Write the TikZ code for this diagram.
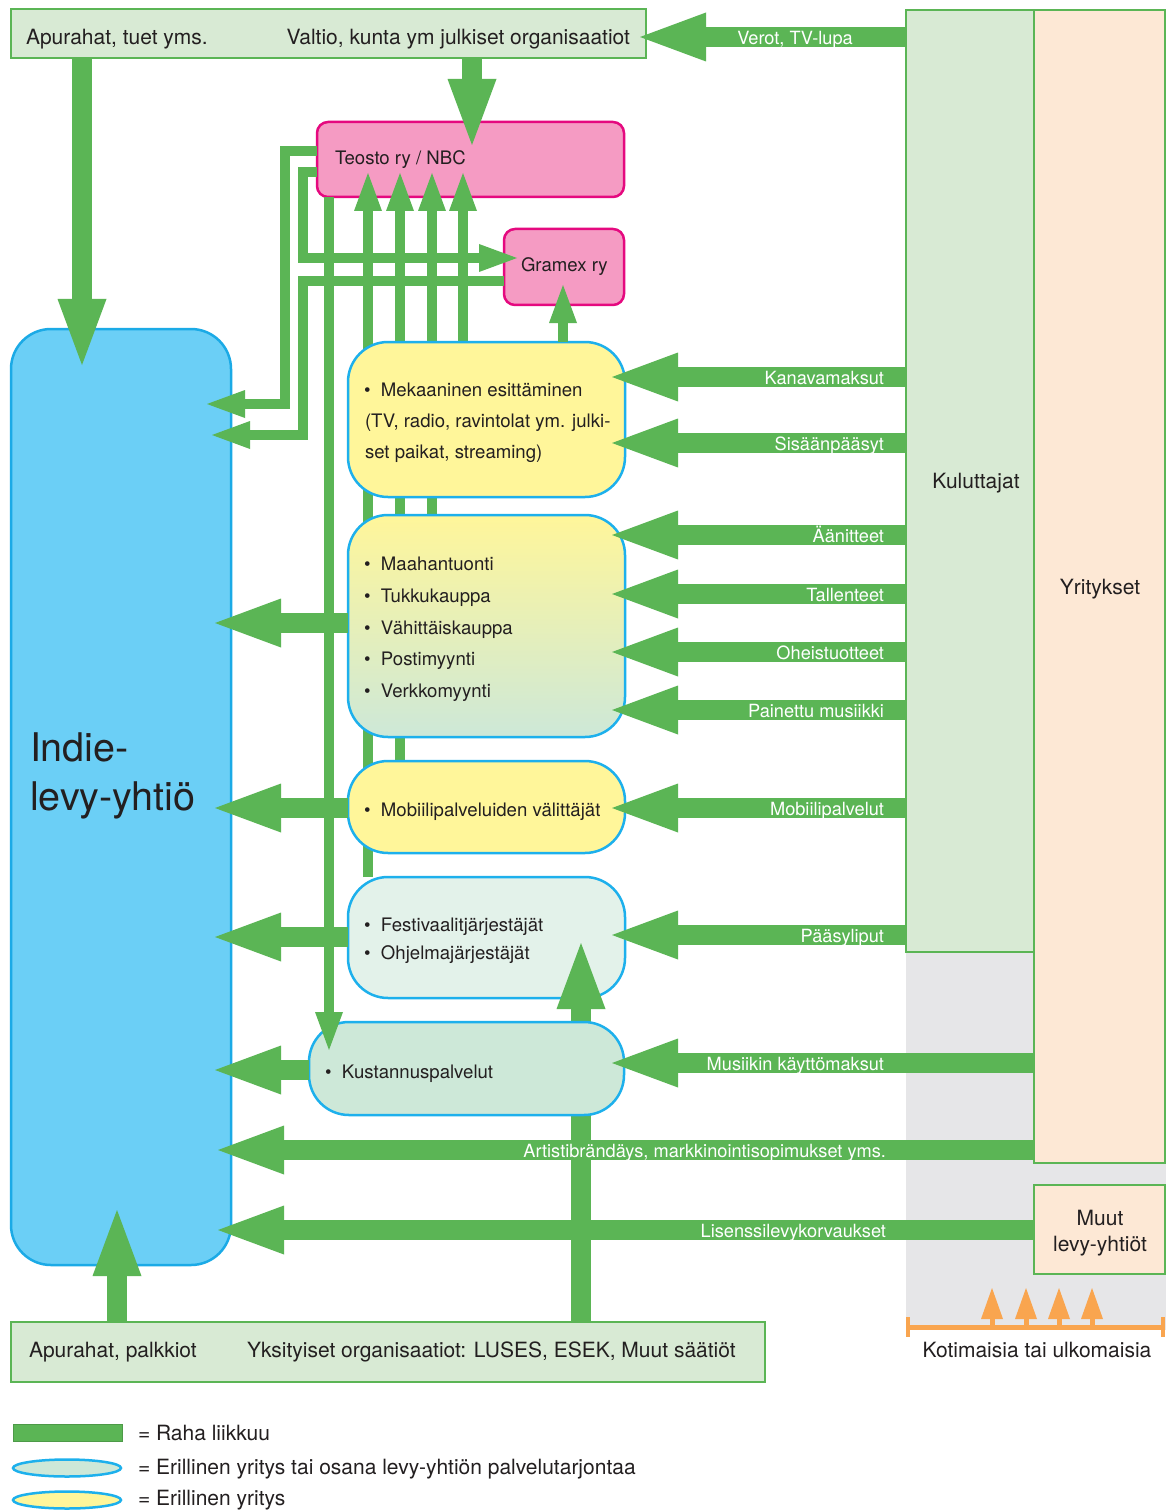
\documentclass[tikz,border=0pt]{standalone}
\usepackage{fontspec}
\setmainfont{TeX Gyre Heros}
\usetikzlibrary{arrows.meta,calc,shapes.geometric}
\definecolor{mg}{RGB}{91,181,85}
\definecolor{lgreen}{RGB}{216,234,212}
\definecolor{lorange}{RGB}{253,232,213}
\definecolor{lgrey}{RGB}{230,230,232}
\definecolor{pinkf}{RGB}{245,155,195}
\definecolor{mag}{RGB}{229,9,127}
\definecolor{bluef}{RGB}{107,207,246}
\definecolor{blueb}{RGB}{27,170,230}
\definecolor{yel}{RGB}{255,246,154}
\definecolor{cyanb}{RGB}{29,176,236}
\definecolor{mint}{RGB}{205,232,216}
\definecolor{mintl}{RGB}{227,242,234}
\definecolor{orng}{RGB}{249,165,79}
\definecolor{txt}{RGB}{35,31,32}
\newcommand\szbox{\fontsize{18.6}{22}\selectfont}
\newcommand\szlab{\fontsize{18.2}{22}\selectfont}
\newcommand\szbig{\fontsize{21}{25}\selectfont}
\newcommand\szindie{\fontsize{39.5}{46}\selectfont}
\newcommand\bul{\makebox[17pt][l]{•}}
\begin{document}
\begin{tikzpicture}[x=1pt,y=-1pt,
  box/.style={anchor=north west, inner sep=0pt, outer sep=0pt, line width=2.5pt},
  gbox/.style={box, draw=mg, fill=lgreen},
  obox/.style={box, draw=mg, fill=lorange},
  pbox/.style={box, draw=mag, fill=pinkf, rounded corners=11pt},
  cbox/.style={box, draw=cyanb, rounded corners=40pt},
  money/.style={draw=mg, line width=20pt, -{Triangle[width=49pt,length=66pt,line width=0pt]}},
  thinmoney/.style={draw=mg, line width=9.5pt, line join=miter, -{Triangle[width=28pt,length=38pt,line width=0pt]}},
  orarrow/.style={draw=orng, line width=5pt, -{Triangle[width=22pt,length=31pt,line width=0pt]}},
  tx/.style={inner sep=0pt, outer sep=0pt, text=txt, text height=0.72em, text depth=0pt, yshift=-3.5pt},
  bt/.style={tx, font=\szbox, anchor=west},
  gt/.style={tx, font=\szbig},
  wl/.style={tx, text=white, font=\szlab, anchor=east},
]
\useasboundingbox (0,0) rectangle (1167,1511);
\fill[white] (0,0) rectangle (1167,1511);
% ---------------- background boxes
\node[box, fill=lgrey, minimum width=260pt, minimum height=1320pt] (grey) at (906,10) {};
\node[gbox, minimum width=128pt, minimum height=942pt] (kul) at (906,10) {};
\node[obox, minimum width=131pt, minimum height=1153pt] (yri) at (1034,10) {};
\node[obox, minimum width=131pt, minimum height=89pt] (muut) at (1034,1185) {};
\node[gbox, minimum width=635pt, minimum height=49pt] (top) at (11,9) {};
\node[gbox, minimum width=754pt, minimum height=60pt] (bot) at (11,1322) {};
\node[pbox, minimum width=307pt, minimum height=75pt] (teosto) at (317,122) {};
\node[pbox, minimum width=120pt, minimum height=76pt] (gramex) at (504,229) {};
\node[box, draw=blueb, fill=bluef, rounded corners=40pt, minimum width=220pt, minimum height=936pt] (indie) at (11,329) {};

% ---------------- thin connectors (behind the service boxes)
\draw[thinmoney] (teosto.west |- 0,151) -| (285,404) -- ($(indie.east |- 0,404)+(-24,0)$);
\draw[thinmoney] (teosto.west |- 0,172) -| (303,258) -- ($(gramex.west |- 0,258)+(13,0)$);
\draw[thinmoney] (gramex.west |- 0,281) -| (303,435) -- ($(indie.east |- 0,435)+(-19,0)$);
\coordinate (mekn) at (463,342);
\coordinate (maan) at (432,515);
\coordinate (mobn) at (400,761);
\coordinate (fesn) at (368,877);
\draw[thinmoney] (mekn) -- ($(teosto.south -| mekn)+(0,-24)$);
\draw[thinmoney] (maan) -- ($(teosto.south -| maan)+(0,-24)$);
\draw[thinmoney] (mobn) -- ($(teosto.south -| mobn)+(0,-24)$);
\draw[thinmoney] (fesn) -- ($(teosto.south -| fesn)+(0,-24)$);

% ---------------- service boxes
\node[cbox, fill=yel, minimum width=277pt, minimum height=155pt] (mek) at (348,342) {};
\node[cbox, top color=yel, bottom color=mint, minimum width=277pt, minimum height=222pt] (maa) at (348,515) {};
\node[cbox, fill=yel, minimum width=277pt, minimum height=92pt] (mob) at (348,761) {};
\node[cbox, fill=mintl, minimum width=277pt, minimum height=121pt] (fes) at (348,877) {};

\draw[thinmoney] (mek.north -| 563,0) -- ($(gramex.south -| 563,0)+(0,-20)$);
\draw[money] (bot.north -| 581,0) -- ($(fes.south -| 581,0)+(0,-55)$);

\node[cbox, fill=mint, minimum width=315pt, minimum height=93pt] (kus) at (309,1022) {};
\draw[thinmoney] (teosto.south -| 329,0) -- ($(kus.north -| 329,0)+(0,28)$);

% ---------------- big money arrows
\draw[money] (top.south -| 82,0) -- ($(indie.north -| 82,0)+(0,36)$);
\draw[money] (top.south -| 472,0) -- ($(teosto.north -| 472,0)+(0,23)$);
\draw[money] (bot.north -| 117,0) -- ($(indie.south -| 117,0)+(0,-55)$);

\draw[money] (kul.west |- 0,37) -- ($(top.east |- 0,37)+(-6,0)$);
\draw[money] (kul.west |- 0,377) -- ($(mek.east |- 0,377)+(-13,0)$);
\draw[money] (kul.west |- 0,443) -- ($(mek.east |- 0,443)+(-13,0)$);
\draw[money] (kul.west |- 0,535) -- ($(maa.east |- 0,535)+(-13,0)$);
\draw[money] (kul.west |- 0,594) -- ($(maa.east |- 0,594)+(-13,0)$);
\draw[money] (kul.west |- 0,652) -- ($(maa.east |- 0,652)+(-13,0)$);
\draw[money] (kul.west |- 0,710) -- ($(maa.east |- 0,710)+(-13,0)$);
\draw[money] (kul.west |- 0,808) -- ($(mob.east |- 0,808)+(-13,0)$);
\draw[money] (kul.west |- 0,935) -- ($(fes.east |- 0,935)+(-13,0)$);
\draw[money] (yri.west |- 0,1063) -- ($(kus.east |- 0,1063)+(-12,0)$);
\draw[money] (yri.west |- 0,1150) -- ($(indie.east |- 0,1150)+(-13,0)$);
\draw[money] (muut.west |- 0,1230) -- ($(indie.east |- 0,1230)+(-13,0)$);

\draw[money] (maa.west |- 0,623) -- ($(indie.east |- 0,623)+(-16,0)$);
\draw[money] (mob.west |- 0,808) -- ($(indie.east |- 0,808)+(-16,0)$);
\draw[money] (fes.west |- 0,937) -- ($(indie.east |- 0,937)+(-16,0)$);
\draw[money] (kus.west |- 0,1070) -- ($(indie.east |- 0,1070)+(-16,0)$);

% ---------------- orange bracket
\coordinate (brl) at (908,1327);
\coordinate (brr) at (1163,1327);
\draw[orng, line width=5pt] (brl) -- (brr);
\draw[orng, line width=4pt] ($(brl)+(0,-10)$) -- ($(brl)+(0,10)$);
\draw[orng, line width=4pt] ($(brr)+(0,-10)$) -- ($(brr)+(0,10)$);
\foreach \xx/\nm in {992/oa,1026/ob,1059/oc,1092/od}{
  \coordinate (\nm) at (\xx,1327);
  \draw[orarrow] (\nm) -- ($(\nm)+(0,-39)$);
}

% ---------------- texts
\node[gt, anchor=west] (t1) at (26,37) {Apurahat, tuet yms.};
\node[gt, anchor=east] (t2) at (630,37) {Valtio, kunta ym julkiset organisaatiot};
\node[gt, anchor=west] (t3) at (29,1350) {Apurahat, palkkiot};
\node[gt, anchor=west] (t4) at (247,1350) {Yksityiset organisaatiot: LUSES, ESEK, Muut säätiöt};
\node[gt] (t5) at (976,481) {Kuluttajat};
\node[gt] (t6) at (1100,587) {Yritykset};
\node[gt] (t7) at (1100,1218) {Muut};
\node[gt] (t8) at (1100,1244) {levy-yhtiöt};
\node[gt] (t9) at (1037,1350) {Kotimaisia tai ulkomaisia};
\node[tx, font=\szindie, anchor=west] (t10) at (30,754) {Indie-};
\node[tx, font=\szindie, anchor=west] (t11) at (30,803) {levy-yhtiö};

\node[bt] (b1) at (335,157) {Teosto ry / NBC};
\node[bt] (b2) at (521,264) {Gramex ry};
\node[bt] (b3) at (364,389) {\bul Mekaaninen esittäminen};
\node[bt] (b4) at (365,420) {(TV, radio, ravintolat ym. julki-};
\node[bt] (b5) at (365,451) {set paikat, streaming)};
\node[bt] (b6) at (364,563) {\bul Maahantuonti};
\node[bt] (b7) at (364,595) {\bul Tukkukauppa};
\node[bt] (b8) at (364,627) {\bul Vähittäiskauppa};
\node[bt] (b9) at (364,658) {\bul Postimyynti};
\node[bt] (b10) at (364,690) {\bul Verkkomyynti};
\node[bt] (b11) at (364,809) {\bul Mobiilipalveluiden välittäjät};
\node[bt] (b12) at (364,924) {\bul Festivaalitjärjestäjät};
\node[bt] (b13) at (364,952) {\bul Ohjelmajärjestäjät};
\node[bt] (b14) at (325,1071) {\bul Kustannuspalvelut};

\node[tx, text=white, font=\szlab] (w1) at (795,37) {Verot, TV-lupa};
\node[wl] (w2) at (884,377) {Kanavamaksut};
\node[wl] (w3) at (884,443) {Sisäänpääsyt};
\node[wl] (w4) at (884,535) {Äänitteet};
\node[wl] (w5) at (884,594) {Tallenteet};
\node[wl] (w6) at (884,652) {Oheistuotteet};
\node[wl] (w7) at (884,710) {Painettu musiikki};
\node[wl] (w8) at (884,808) {Mobiilipalvelut};
\node[wl] (w9) at (884,935) {Pääsyliput};
\node[wl] (w10) at (884,1063) {Musiikin käyttömaksut};
\node[wl] (w11) at (886,1150) {Artistibrändäys, markkinointisopimukset yms.};
\node[wl] (w12) at (886,1230) {Lisenssilevykorvaukset};

% ---------------- legend
\node[box, draw=mg!85!black, line width=1pt, fill=mg, minimum width=109pt, minimum height=17pt] (lg1) at (13,1424) {};
\node[ellipse, draw=cyanb, fill=mint, line width=2.5pt, inner sep=0pt, minimum width=108pt, minimum height=17pt] (lg2) at (67,1468) {};
\node[ellipse, draw=cyanb, fill=yel, line width=2.5pt, inner sep=0pt, minimum width=108pt, minimum height=17pt] (lg3) at (67,1500) {};
\node[gt, anchor=west] (l1) at (138,1433) {= Raha liikkuu};
\node[gt, anchor=west] (l2) at (138,1467) {= Erillinen yritys tai osana levy-yhtiön palvelutarjontaa};
\node[gt, anchor=west] (l3) at (138,1498) {= Erillinen yritys};
\end{tikzpicture}
\end{document}
